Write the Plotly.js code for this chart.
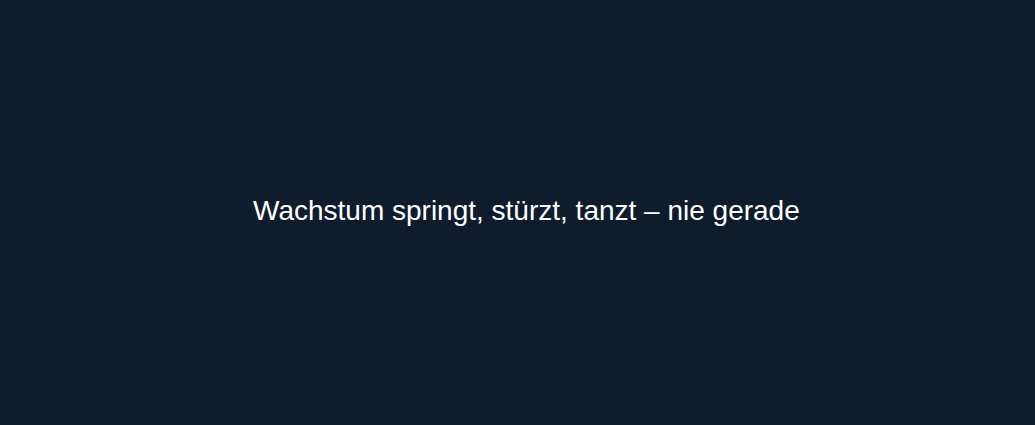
<!DOCTYPE html>
<html>
<head>
<meta charset="utf-8">
<script src="https://cdn.plot.ly/plotly-3.0.1.min.js"></script>
<style>
  html, body { margin: 0; padding: 0; background: #0f1c2c; }
  #chart { width: 1035px; height: 425px; }
</style>
</head>
<body>
<div id="chart"></div>
<script>
// the reference shows no marks at all, only the message
var xValues = [];
var yValues = [];
var message = 'Wachstum springt, stürzt, tanzt – nie gerade';

var trace = {
  x: xValues,
  y: yValues,
  type: 'scatter',
  mode: 'lines',
  showlegend: false
};

var layout = {
  width: 1035,
  height: 425,
  paper_bgcolor: '#0f1c2c',
  plot_bgcolor: '#0f1c2c',
  margin: {l: 80, r: 62, t: 60, b: 60},
  xaxis: {visible: false},
  yaxis: {visible: false},
  annotations: [{
    text: message,
    xref: 'paper', yref: 'paper',
    x: 0.5, y: 0.5,
    xanchor: 'center', yanchor: 'middle',
    yshift: 2,
    showarrow: false,
    font: {family: 'Liberation Sans, Arial, sans-serif', size: 28, color: '#ffffff'}
  }]
};

Plotly.newPlot('chart', [trace], layout, {displayModeBar: false, staticPlot: true});
</script>
</body>
</html>
